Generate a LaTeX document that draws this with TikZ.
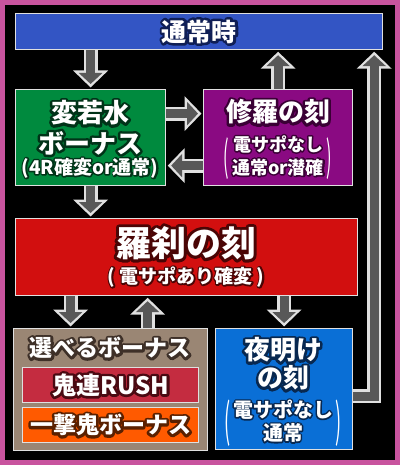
\documentclass[tikz,border=0pt]{standalone}
\usepackage{fontspec}
\setmainfont{Noto Sans CJK JP}
\usetikzlibrary{arrows.meta,positioning,calc}
\definecolor{frame}{HTML}{C8549E}
\definecolor{edge}{HTML}{E0E0E0}
\definecolor{shaft}{HTML}{585858}
\definecolor{topblue}{HTML}{3355C4}
\definecolor{topdk}{HTML}{0F1E55}
\definecolor{grn}{HTML}{008A3E}
\definecolor{grndk}{HTML}{003318}
\definecolor{pur}{HTML}{8A0A82}
\definecolor{purdk}{HTML}{3A0035}
\definecolor{red}{HTML}{D20F0F}
\definecolor{reddk}{HTML}{4A0505}
\definecolor{brn}{HTML}{9A8674}
\definecolor{brndk}{HTML}{3E3028}
\definecolor{rush}{HTML}{C42C40}
\definecolor{rushdk}{HTML}{4A0A12}
\definecolor{ichi}{HTML}{FF5A00}
\definecolor{ichidk}{HTML}{5A2000}
\definecolor{dawn}{HTML}{0A6FD6}
\definecolor{dawndk}{HTML}{082850}

% outlined text: a stroked copy under the filled one
\newcommand{\olt}[3][5]{\rlap{\special{pdf:code q 1 Tr #1 w 1 j}\textcolor{#2}{#3}\special{pdf:code Q}}#3}
% tall thin parenthesis
\newcommand{\tallp}[1]{\raisebox{-9pt}{\scalebox{0.9}[2.3]{\mdseries #1}}}
\newcommand{\fatarrow}[1]{\draw[fat] #1; \draw[fatin] #1;}

\begin{document}
\begin{tikzpicture}[x=1pt,y=-1pt,
  bx/.style={draw=edge,line width=1.2pt,inner sep=0pt,anchor=north west},
  tx/.style={text=white,inner sep=0pt,align=center},
  fat/.style={line width=14pt,color=edge,line join=miter,shorten >=1.5pt,-{Triangle[width=34pt,length=17pt]}},
  fatin/.style={line width=9pt,color=shaft,line join=miter,shorten >=5pt,-{Triangle[width=23pt,length=11pt]}}]
  \fill[frame] (0,0) rectangle (400,465);
  \fill[black] (5,5) rectangle (395,460);
  % boxes
  \node[bx,fill=topblue,minimum width=367pt,minimum height=36pt] (top) at (15,13) {};
  \node[bx,fill=grn,minimum width=150pt,minimum height=96pt] (henjaku) at (15,89) {};
  \node[bx,fill=pur,minimum width=149pt,minimum height=96pt] (shura) at (203,89) {};
  \node[bx,fill=red,minimum width=342pt,minimum height=77pt] (rasetsu) at (15,218) {};
  \node[bx,fill=brn,minimum width=194pt,minimum height=122pt] (erabu) at (13,328) {};
  \node[bx,fill=rush,minimum width=176pt,minimum height=35pt] (rush) at (22,367) {};
  \node[bx,fill=ichi,minimum width=176pt,minimum height=35pt] (ichigeki) at (22,407) {};
  \node[bx,fill=dawn,minimum width=137pt,minimum height=121pt] (yoake) at (215,328) {};
  % texts
  \node[tx,font=\fontsize{25}{28}\selectfont\bfseries] (top-t) at (top.center) {\olt{topdk}{通常時}};
  \node[tx,font=\fontsize{26}{28}\selectfont\bfseries] (henjaku-t1) at (90,113) {\olt{grndk}{変若水}};
  \node[tx,font=\fontsize{26}{28}\selectfont\bfseries] (henjaku-t2) at (90,143) {\olt{grndk}{ボーナス}};
  \node[tx,font=\fontsize{19}{20}\selectfont\bfseries] (henjaku-t3) at (90,168) {\olt[3]{grndk}{(4R確変or通常)}};
  \node[tx,font=\fontsize{26}{28}\selectfont\bfseries] (shura-t1) at (278,112) {\olt{purdk}{修羅の刻}};
  \node[tx,font=\fontsize{18}{23}\selectfont\bfseries] (shura-t2) at (278,158)
    {\tallp{(}\hspace{3pt}\begin{tabular}[c]{@{}c@{}}\olt[3]{purdk}{電サポなし}\\\olt[3]{purdk}{通常or潜確}\end{tabular}\hspace{3pt}\tallp{)}};
  \node[tx,font=\fontsize{35}{38}\selectfont\bfseries] (rasetsu-t1) at (186,243) {\olt[6]{reddk}{羅刹の刻}};
  \node[tx,font=\fontsize{19}{22}\selectfont\bfseries] (rasetsu-t2) at (186,277) {\olt[3]{reddk}{( 電サポあり確変 )}};
  \node[tx,font=\fontsize{23}{26}\selectfont\bfseries] (erabu-t) at (110,348) {\olt{brndk}{選べるボーナス}};
  \node[tx,font=\fontsize{24}{26}\selectfont\bfseries] (rush-t) at (rush.center) {\olt{rushdk}{鬼連RUSH}};
  \node[tx,font=\fontsize{23}{26}\selectfont\bfseries] (ichigeki-t) at (ichigeki.center) {\olt{ichidk}{一撃鬼ボーナス}};
  \node[tx,font=\fontsize{26}{28}\selectfont\bfseries] (yoake-t1) at (283,350) {\olt{dawndk}{夜明け}};
  \node[tx,font=\fontsize{26}{28}\selectfont\bfseries] (yoake-t2) at (283,378) {\olt{dawndk}{の刻}};
  \node[tx,font=\fontsize{20}{20}\selectfont\bfseries] (yoake-t3) at (283,423)
    {\tallp{(}\hspace{2pt}\begin{tabular}[c]{@{}c@{}}\olt[3]{dawndk}{電サポなし}\\\olt[3]{dawndk}{通常}\end{tabular}\hspace{2pt}\tallp{)}};
  % arrows
  \fatarrow{(henjaku.north |- top.south) -- (henjaku.north)}
  \fatarrow{([yshift=24pt]henjaku.east) -- ([yshift=24pt]henjaku.east -| shura.west)}
  \fatarrow{([yshift=-28pt]shura.west) -- ([yshift=-28pt]shura.west -| henjaku.east)}
  \fatarrow{(shura.north) -- (shura.north |- top.south)}
  \fatarrow{(henjaku.south) -- (henjaku.south |- rasetsu.north)}
  \fatarrow{([xshift=-40pt]erabu.north |- rasetsu.south) -- ([xshift=-40pt]erabu.north)}
  \fatarrow{([xshift=37pt]erabu.north) -- ([xshift=37pt]erabu.north |- rasetsu.south)}
  \fatarrow{(yoake.north |- rasetsu.south) -- (yoake.north)}
  \fatarrow{([yshift=-7pt]yoake.east) -| ([xshift=-9pt]top.south east)}
\end{tikzpicture}
\end{document}
